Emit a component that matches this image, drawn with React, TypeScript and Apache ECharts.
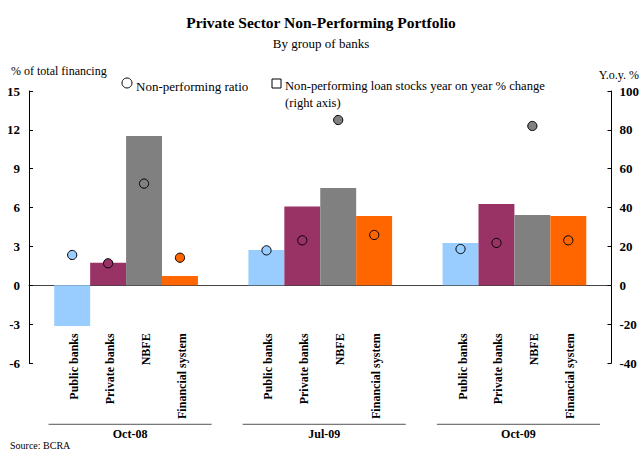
import React, { useEffect, useRef } from "react";
import * as echarts from "echarts";

const GROUPS = ["Oct-08", "Jul-09", "Oct-09"];
const MEMBERS = ["Public banks", "Private banks", "NBFE", "Financial system"];
const COLORS = ["#99CCFF", "#993366", "#808080", "#FF6600"];
// Non-performing loan stocks y.o.y. % change (right axis), per member, per group
const STOCKS_PUBLIC = [-21, 18.2, 21.8];
const STOCKS_PRIVATE = [11.6, 40.5, 41.8];
const STOCKS_NBFE = [76.8, 50.1, 36.2];
const STOCKS_FS = [4.8, 35.7, 35.7];
// Non-performing ratio, % of total financing (left axis)
const RATIO_PUBLIC = [2.34, 2.78, 2.8];
const RATIO_PRIVATE = [1.7, 3.47, 3.32];
const RATIO_NBFE = [7.85, 12.76, 12.3];
const RATIO_FS = [2.13, 3.96, 3.47];
const LEFT_TICKS = { min: -6, max: 15, interval: 3 };
const RIGHT_TICKS = { min: -40, max: 100, interval: 20 };

const FONT = '"Liberation Serif", "DejaVu Serif", serif';
const CAT_GAP = 0.26;

export default function App() {
  const ref = useRef<HTMLDivElement>(null);
  useEffect(() => {
    if (!ref.current) return;
    const chart = echarts.init(ref.current, undefined, { renderer: "svg" });
    const stocks = [STOCKS_PUBLIC, STOCKS_PRIVATE, STOCKS_NBFE, STOCKS_FS];
    const ratios = [RATIO_PUBLIC, RATIO_PRIVATE, RATIO_NBFE, RATIO_FS];
    const dotData: number[][] = [];
    ratios.forEach((arr, j) => arr.forEach((v, i) => dotData.push([i, j, v])));

    const barSeries = MEMBERS.map((m, j) => ({
      name: m,
      type: "bar",
      yAxisIndex: 1,
      data: stocks[j],
      barGap: "0%",
      barCategoryGap: CAT_GAP * 100 + "%",
      itemStyle: { color: COLORS[j] },
      z: 2,
    }));

    const option: any = {
      animation: false,
      backgroundColor: "#fff",
      title: [
        {
          text: "Private Sector Non-Performing Portfolio",
          left: "center",
          top: 9,
          textStyle: { fontFamily: FONT, fontSize: 15.5, fontWeight: "bold", color: "#000" },
        },
        {
          text: "By group of banks",
          left: "center",
          top: 32,
          textStyle: { fontFamily: FONT, fontSize: 13, fontWeight: "normal", color: "#000" },
        },
      ],
      grid: { left: 29, right: 30, top: 91, bottom: 88, containLabel: false },
      xAxis: {
        type: "category",
        data: GROUPS,
        axisLine: { show: true, onZero: true, lineStyle: { color: "#444", width: 1 } },
        axisTick: { show: false },
        axisLabel: { show: false },
        splitLine: { show: false },
      },
      yAxis: [
        {
          type: "value",
          ...LEFT_TICKS,
          position: "left",
          axisLine: { show: true, lineStyle: { color: "#000" } },
          axisTick: { show: true, inside: true, length: 4, lineStyle: { color: "#000" } },
          axisLabel: { fontFamily: FONT, fontSize: 13, fontWeight: "bold", color: "#000", margin: 9 },
          splitLine: { show: false },
        },
        {
          type: "value",
          ...RIGHT_TICKS,
          position: "right",
          axisLine: { show: true, lineStyle: { color: "#000" } },
          axisTick: { show: true, inside: true, length: 4, lineStyle: { color: "#000" } },
          axisLabel: { fontFamily: FONT, fontSize: 13, fontWeight: "bold", color: "#000", margin: 8 },
          splitLine: { show: false },
        },
      ],
      graphic: [
        { type: "text", left: 11, top: 65, style: { text: "% of total financing", font: `12px ${FONT}`, fill: "#000" } },
        { type: "text", right: 3, top: 69, style: { text: "Y.o.y. %", font: `12px ${FONT}`, fill: "#000" } },
        { type: "circle", shape: { cx: 127, cy: 83, r: 5 }, style: { fill: "#fff", stroke: "#000", lineWidth: 1 } },
        { type: "text", x: 136, y: 86, style: { text: "Non-performing ratio", font: `13px ${FONT}`, fill: "#000", verticalAlign: "middle" } },
        { type: "rect", shape: { x: 272, y: 79, width: 9, height: 9 }, style: { fill: "#fff", stroke: "#000", lineWidth: 1 } },
        { type: "text", x: 285, y: 86, style: { text: "Non-performing loan stocks year on year % change", font: `12.6px ${FONT}`, fill: "#000", verticalAlign: "middle" } },
        { type: "text", x: 285, y: 103, style: { text: "(right axis)", font: `12.6px ${FONT}`, fill: "#000", verticalAlign: "middle" } },
        { type: "text", left: 10, top: 440, style: { text: "Source: BCRA", font: `10px ${FONT}`, fill: "#000" } },
      ],
      series: [
        ...barSeries,
        {
          name: "Non-performing ratio",
          type: "custom",
          yAxisIndex: 0,
          data: dotData,
          encode: { x: 0, y: 2 },
          z: 5,
          renderItem: (params: any, api: any) => {
            const gi = api.value(0);
            const mj = api.value(1);
            const v = api.value(2);
            const pt = api.coord([gi, v]);
            const band = api.size([1, 0])[0];
            const barW = (band * (1 - CAT_GAP)) / 4;
            const cx = pt[0] + (mj - 1.5) * barW;
            return {
              type: "circle",
              shape: { cx, cy: pt[1], r: 4.6 },
              style: { fill: COLORS[mj], stroke: "#000", lineWidth: 1 },
            };
          },
        },
        {
          name: "labels",
          type: "custom",
          yAxisIndex: 0,
          silent: true,
          clip: false,
          data: GROUPS.map((_, i) => [i, 0]),
          encode: { x: 0, y: 1 },
          renderItem: (params: any, api: any) => {
            const gi = api.value(0);
            const base = api.coord([gi, 0]);
            const band = api.size([1, 0])[0];
            const barW = (band * (1 - CAT_GAP)) / 4;
            const children: any[] = MEMBERS.map((m, j) => ({
              type: "text",
              x: base[0] + (j - 1.5) * barW + 2,
              y: base[1] + 48,
              rotation: Math.PI / 2,
              style: {
                text: m,
                align: "right",
                verticalAlign: "middle",
                font: `bold 12px ${FONT}`,
                fill: "#000",
              },
            }));
            const half = band * 0.42;
            children.push({
              type: "line",
              shape: { x1: base[0] - half + 4, y1: base[1] + 139, x2: base[0] + half + 4, y2: base[1] + 139 },
              style: { stroke: "#555", lineWidth: 1 },
            });
            children.push({
              type: "text",
              x: base[0] + 4,
              y: base[1] + 149,
              style: {
                text: GROUPS[gi],
                align: "center",
                verticalAlign: "middle",
                font: `bold 12px ${FONT}`,
                fill: "#000",
              },
            });
            return { type: "group", children };
          },
        },
      ],
    };
    chart.setOption(option);
    return () => chart.dispose();
  }, []);
  return <div ref={ref} style={{ width: 642, height: 451, position: "absolute", left: 0, top: 0 }} />;
}
